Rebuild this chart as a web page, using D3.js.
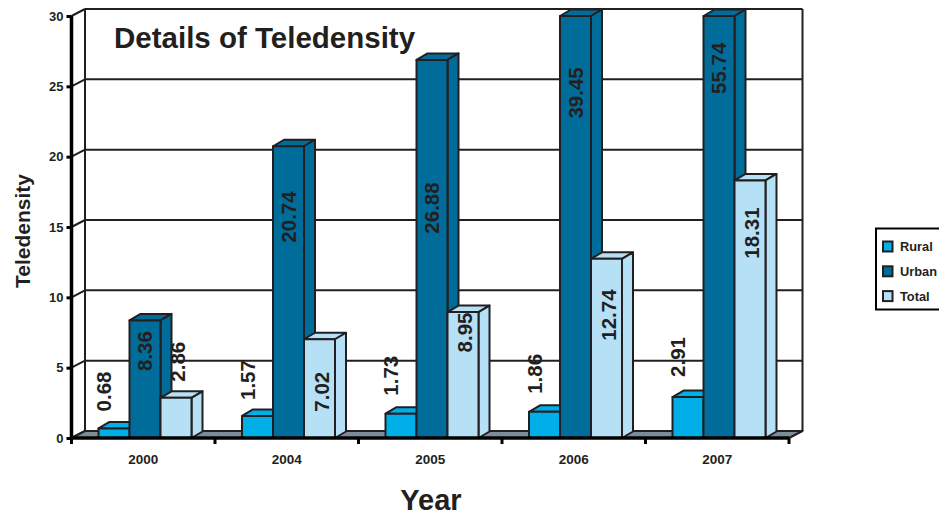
<!DOCTYPE html>
<html>
<head>
<meta charset="utf-8">
<script src="https://cdn.jsdelivr.net/npm/d3@7/dist/d3.min.js"></script>
<style>
  html, body { margin: 0; padding: 0; background: #fff; }
  svg { display: block; }
  text { font-family: "Liberation Sans", Arial, sans-serif; font-weight: bold; fill: #231f20; }
</style>
</head>
<body>
<svg id="chart" width="939" height="515"></svg>
<script>
// Teledensity by year (per 100 people)
const years = ["2000", "2004", "2005", "2006", "2007"];
const seriesNames = ["Rural", "Urban", "Total"];
const rural = [0.68, 1.57, 1.73, 1.86, 2.91];
const urban = [8.36, 20.74, 26.88, 39.45, 55.74];
const total = [2.86, 7.02, 8.95, 12.74, 18.31];
const yTickValues = [0, 5, 10, 15, 20, 25, 30];

// Height (in axis units) at which each value label is centred
const ruralLabelAt = [3.31, 4.12, 4.43, 4.56, 5.76];
const urbanLabelAt = [6.18, 15.71, 16.35, 24.53, 26.28];
const totalLabelAt = [5.42, 3.29, 7.5, 8.74, 14.57];

const seriesValues = [rural, urban, total];
const seriesLabelAt = [ruralLabelAt, urbanLabelAt, totalLabelAt];
const colors = ["#00aee8", "#006c9a", "#b5e0f5"];
const labelShift = [-10, 0, 2];

const svg = d3.select("#chart");
const ink = "#231f20";

// Plot frame
const x0 = 71.5, x1 = 789, yBase = 438, yTop = 16;
const wallDx = 13.5, wallDy = -7;      // depth of the back wall
const barDx = 11, barDy = -6.5;        // depth of each bar

const y = d3.scaleLinear().domain([0, 30]).range([yBase, yTop]);
const x = d3.scaleBand().domain(years).range([x0, x1]).paddingInner(0).paddingOuter(0);
const xs = d3.scaleBand().domain(seriesNames).range([27, 27 + 93]);

// Back wall gridlines, left wall diagonals
const grid = svg.append("g");
yTickValues.forEach(v => {
  if (v > 0) {
    grid.append("line")
      .attr("x1", x0 + wallDx).attr("x2", x1 + wallDx)
      .attr("y1", y(v) + wallDy).attr("y2", y(v) + wallDy)
      .attr("stroke", ink).attr("stroke-width", 2);
  }
  grid.append("line")
    .attr("x1", x0).attr("y1", y(v))
    .attr("x2", x0 + wallDx).attr("y2", y(v) + wallDy)
    .attr("stroke", ink).attr("stroke-width", 2);
});
grid.append("line")
  .attr("x1", x0 + wallDx).attr("x2", x0 + wallDx)
  .attr("y1", y(30) + wallDy).attr("y2", yBase + wallDy)
  .attr("stroke", ink).attr("stroke-width", 2);
grid.append("line")
  .attr("x1", x1 + wallDx).attr("x2", x1 + wallDx)
  .attr("y1", y(30) + wallDy).attr("y2", yBase + wallDy)
  .attr("stroke", ink).attr("stroke-width", 2);

// Floor
svg.append("polygon")
  .attr("points", [[x0, yBase], [x0 + wallDx, yBase + wallDy], [x1 + wallDx, yBase + wallDy], [x1, yBase]].join(" "))
  .attr("fill", "#7b8d96").attr("stroke", ink).attr("stroke-width", 2).attr("stroke-linejoin", "round");

// Bars (clipped at the top of the axis), drawn left to right
const bars = svg.append("g");
years.forEach((yr, i) => {
  seriesNames.forEach((s, j) => {
    const v = Math.min(seriesValues[j][i], 30);
    const L = x(yr) + xs(s), R = L + xs.bandwidth();
    const T = y(v), B = yBase;
    const g = bars.append("g")
      .attr("fill", colors[j]).attr("stroke", ink)
      .attr("stroke-width", 2).attr("stroke-linejoin", "round");
    g.append("polygon").attr("points", [[L, T], [L + barDx, T + barDy], [R + barDx, T + barDy], [R, T]].join(" "));
    g.append("polygon").attr("points", [[R, T], [R + barDx, T + barDy], [R + barDx, B + barDy], [R, B]].join(" "));
    g.append("rect").attr("x", L).attr("y", T).attr("width", R - L).attr("height", B - T);
  });
});

// Value labels
const labels = svg.append("g");
years.forEach((yr, i) => {
  seriesNames.forEach((s, j) => {
    const cx = x(yr) + xs(s) + xs.bandwidth() / 2 + labelShift[j];
    const cy = y(seriesLabelAt[j][i]);
    labels.append("text")
      .attr("transform", `translate(${cx},${cy}) rotate(-90)`)
      .attr("text-anchor", "middle").attr("dy", "0.36em")
      .style("font-size", "20.5px")
      .text(seriesValues[j][i].toFixed(2));
  });
});

// Y axis
const yAxis = svg.append("g").attr("transform", `translate(${x0},0)`)
  .call(d3.axisLeft(y).tickValues(yTickValues).tickSize(5).tickPadding(3));
yAxis.select(".domain").attr("stroke", "#000").attr("stroke-width", 3.5)
  .attr("d", `M0,${yTop}V${yBase}`);
yAxis.selectAll(".tick line").attr("stroke", "#000").attr("stroke-width", 3);
yAxis.selectAll(".tick text").style("font-size", "13px").style("font-family", "Liberation Sans, Arial, sans-serif")
  .style("font-weight", "bold").attr("fill", ink);

// X axis: ticks at category edges, labels centred
const xAxis = svg.append("g").attr("transform", `translate(0,${yBase})`);
xAxis.append("line").attr("x1", x0).attr("x2", x1).attr("stroke", "#000").attr("stroke-width", 3.5);
years.concat(["end"]).forEach((yr, i) => {
  const px = i < years.length ? x(yr) : x1;
  xAxis.append("line").attr("x1", px).attr("x2", px).attr("y1", 0).attr("y2", 6)
    .attr("stroke", "#000").attr("stroke-width", 3);
});
years.forEach(yr => {
  xAxis.append("text")
    .attr("x", x(yr) + x.bandwidth() / 2).attr("y", 26)
    .attr("text-anchor", "middle").style("font-size", "13.5px")
    .text(yr);
});

// Titles
svg.append("text").attr("x", 114).attr("y", 48).style("font-size", "29.5px").text("Details of Teledensity");
svg.append("text")
  .attr("transform", "translate(22,231) rotate(-90)")
  .attr("text-anchor", "middle").attr("dy", "0.36em").style("font-size", "21px")
  .text("Teledensity");
svg.append("text").attr("x", 431).attr("y", 510).attr("text-anchor", "middle")
  .style("font-size", "29px").text("Year");

// Legend (box runs off the right edge)
const legend = svg.append("g");
legend.append("rect").attr("x", 876).attr("y", 228.5).attr("width", 80).attr("height", 81)
  .attr("fill", "#fff").attr("stroke", "#000").attr("stroke-width", 2);
seriesNames.forEach((s, j) => {
  const cy = 246.5 + j * 24.8;
  legend.append("rect").attr("x", 883).attr("y", cy - 5).attr("width", 9.5).attr("height", 10)
    .attr("fill", colors[j]).attr("stroke", ink).attr("stroke-width", 2);
  legend.append("text").attr("x", 900).attr("y", cy + 4.5).style("font-size", "12.8px").text(s);
});
</script>
</body>
</html>
